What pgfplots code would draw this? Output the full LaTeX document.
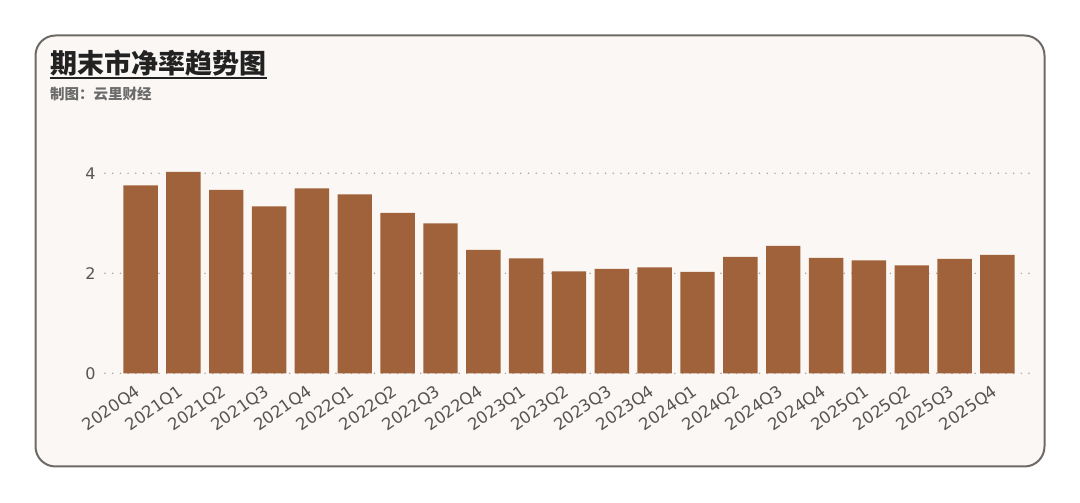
\documentclass[border=0pt]{standalone}
\usepackage{pgfplots}
\pgfplotsset{compat=1.18}
\usepackage{fontspec}
\setmainfont{DejaVu Sans}
\newfontfamily\cjk{Noto Sans CJK SC}

\definecolor{bgc}{HTML}{FAF7F4}
\definecolor{framec}{HTML}{6E6A66}
\definecolor{barc}{HTML}{A0623A}
\definecolor{titlec}{HTML}{222222}
\definecolor{subc}{HTML}{6B6B6B}
\definecolor{tickc}{HTML}{555555}
\definecolor{gridc}{HTML}{AFA7A0}

\begin{document}
\begin{tikzpicture}
\fill[white] (0pt,0pt) rectangle (1080pt,503pt);
\filldraw[fill=bgc, draw=framec, line width=2pt, rounded corners=20pt]
  (35.5pt,36.5pt) rectangle (1044.5pt,467.5pt);

% title and source line
\node[anchor=base west, inner sep=0pt, text=titlec,
      font=\cjk\bfseries\fontsize{27}{27}\selectfont] at (50pt,429pt) {期末市净率趋势图};
\draw[titlec, line width=2pt] (50pt,425.3pt) -- (267pt,425.3pt);
\node[anchor=base west, inner sep=0pt, text=subc,
      font=\cjk\bfseries\fontsize{14.5}{14.5}\selectfont] at (50pt,403pt) {制图：云里财经};

\begin{axis}[
    at={(105pt,129.7pt)}, anchor=south west,
    scale only axis,
    width=926.7pt, height=215pt,
    xmin=-0.83, xmax=20.8,
    ymin=0, ymax=4.3,
    axis line style={draw=none},
    major tick length=0pt,
    ytick={0,2,4},
    ymajorgrids,
    grid style={gridc, line width=1.7pt, line cap=round, dash pattern=on 0pt off 7.7pt},
    xtick=data,
    xticklabels={2020Q4,2021Q1,2021Q2,2021Q3,2021Q4,2022Q1,2022Q2,2022Q3,2022Q4,
                 2023Q1,2023Q2,2023Q3,2023Q4,2024Q1,2024Q2,2024Q3,2024Q4,
                 2025Q1,2025Q2,2025Q3,2025Q4},
    xticklabel style={rotate=35, anchor=north east, inner sep=0pt,
                      xshift=-11pt, yshift=-5pt,
                      font=\fontsize{16.5}{16.5}\selectfont, text=tickc},
    yticklabel style={font=\fontsize{16}{16}\selectfont, text=tickc, xshift=-6pt},
    /pgf/number format/assume math mode=true,
]
\addplot[ybar, bar width=34.4pt, fill=barc, draw=none] coordinates {
    (0,3.76) (1,4.03) (2,3.67) (3,3.34) (4,3.70) (5,3.58) (6,3.21)
    (7,3.00) (8,2.47) (9,2.30) (10,2.04) (11,2.09) (12,2.12) (13,2.03)
    (14,2.33) (15,2.55) (16,2.31) (17,2.26) (18,2.16) (19,2.29) (20,2.37)
};
\end{axis}
\end{tikzpicture}
\end{document}
